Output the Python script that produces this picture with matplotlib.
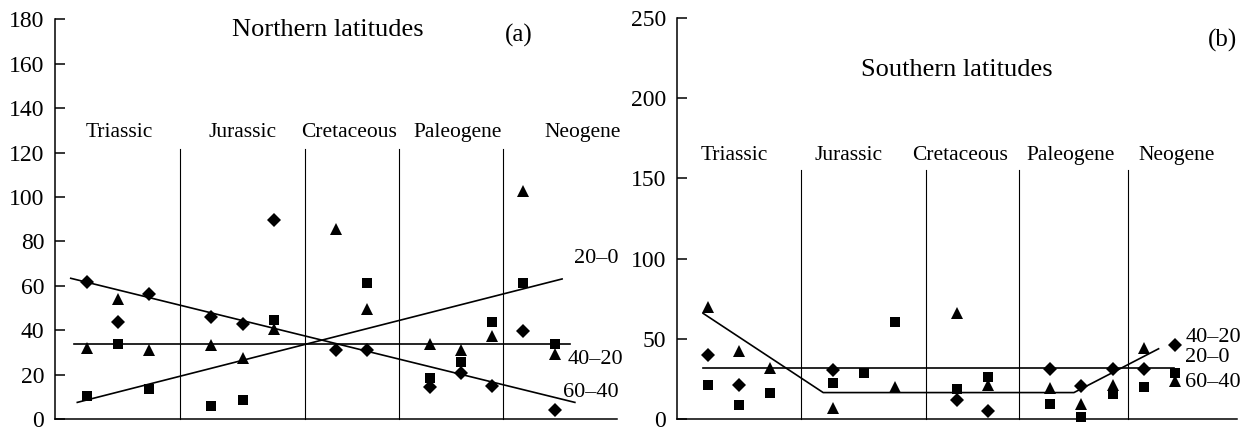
# ================================================================
# 0. Section: IMPORTS
# ================================================================
import numpy as np
from matplotlib import pyplot as plt


# ================================================================
# 1. Section: INPUTS
# ================================================================
STAGES = [1, 2, 3, 5, 6, 7, 9, 10, 12, 13, 14, 15, 16]
PERIODS = ["Triassic", "Jurassic", "Cretaceous", "Paleogene", "Neogene"]

# (a) Northern latitudes
N_DIAMOND = [61.6, 43.6, 56.4, 45.9, 42.8, 89.5, 31.3, 31.3, 14.5, 20.6, 14.9, 39.5, 4.0]
N_TRIANGLE = [31.8, 54.1, 31.0, 33.3, 27.6, 40.6, 85.8, 49.7, 33.6, 31.0, 37.6, 102.9, 29.1]
N_SQUARE = [10.2, 33.6, 13.7, 6.0, 8.5, 44.7, np.nan, 61.5, 18.7, 25.8, 43.6, 61.5, 33.6]

N_TREND_6040_X = [0.49, 16.65]
N_TREND_6040_Y = [63.4, 7.5]
N_TREND_200_X = [0.70, 16.24]
N_TREND_200_Y = [7.5, 63.1]
N_TREND_4020_X = [0.59, 16.48]
N_TREND_4020_Y = [33.6, 33.6]

# (b) Southern latitudes
S_DIAMOND = [40.1, 21.0, np.nan, 30.5, np.nan, np.nan, 11.7, 4.8, 30.9, 20.6, 30.9, 30.9, 46.3]
S_TRIANGLE = [70.0, 42.2, 31.9, 6.8, np.nan, 20.0, 65.9, 21.2, 19.1, 9.3, 21.2, 44.3, 23.7]
S_SQUARE = [21.0, 8.6, 16.5, 22.7, 28.4, 60.7, 18.8, 26.2, 9.3, 1.0, 15.9, 20.0, 28.4]

S_TREND_FLAT_X = [0.84, 15.97]
S_TREND_FLAT_Y = [31.9, 31.9]
S_TREND_BROKEN_X = [0.84, 4.70, 12.76, 15.48]
S_TREND_BROKEN_Y = [65.9, 16.5, 16.5, 43.8]

FONT = "Liberation Serif"


# ================================================================
# 2. Section: FUNCTIONS
# ================================================================
def setup_axis(ax, ymax, ystep, dividers, divider_top, label_xs, label_y):
    ax.set_xlim(0, 18)
    ax.set_ylim(0, ymax)
    ax.set_yticks(np.arange(0, ymax + 1, ystep))
    ax.set_xticks([])
    for side in ("top", "right"):
        ax.spines[side].set_visible(False)
    for side in ("left", "bottom"):
        ax.spines[side].set_linewidth(1.1)
    ax.tick_params(axis="y", direction="in", length=7, width=1.1, pad=8,
                   labelsize=17)
    for lab in ax.get_yticklabels():
        lab.set_family(FONT)

    for x in dividers:
        ax.plot([x, x], [0, divider_top], color="black", lw=0.8, clip_on=False)
    for name, x in zip(PERIODS, label_xs):
        ax.text(x, label_y, name, ha="center", va="center", fontsize=15.5,
                family=FONT)


def draw_points(ax, diamond, triangle, square):
    ax.plot(STAGES, diamond, "D", color="black", ms=6.8, mew=0, clip_on=False)
    ax.plot(STAGES, triangle, "^", color="black", ms=8.5, mew=0, clip_on=False)
    ax.plot(STAGES, square, "s", color="black", ms=6.8, mew=0, clip_on=False)


# ================================================================
# 3. Section: MAIN
# ================================================================
if __name__ == "__main__":
    fig = plt.figure(figsize=(12.52, 4.32), dpi=100)

    # (a) Northern latitudes
    ax_a = fig.add_axes([0.0443, 0.0300, 0.4485, 0.9250])
    setup_axis(ax_a, 180, 20, [4, 8, 11, 14.35], 121.6,
               [2.04, 6.0, 9.42, 12.9, 16.9], 129.2)
    draw_points(ax_a, N_DIAMOND, N_TRIANGLE, N_SQUARE)
    ax_a.plot(N_TREND_6040_X, N_TREND_6040_Y, color="black", lw=1.2)
    ax_a.plot(N_TREND_200_X, N_TREND_200_Y, color="black", lw=1.2)
    ax_a.plot(N_TREND_4020_X, N_TREND_4020_Y, color="black", lw=1.2)
    ax_a.text(17.34, 72.3, "20\u20130", ha="center", va="center", fontsize=16, family=FONT)
    ax_a.text(17.32, 26.8, "40\u201320", ha="center", va="center", fontsize=16, family=FONT)
    ax_a.text(17.17, 11.9, "60\u201340", ha="center", va="center", fontsize=16, family=FONT)
    ax_a.text(8.72, 175.3, "Northern latitudes", ha="center", va="center",
              fontsize=19, family=FONT)
    ax_a.text(14.85, 173.0, "(a)", ha="center", va="center", fontsize=18, family=FONT)

    # (b) Southern latitudes
    ax_b = fig.add_axes([0.5407, 0.0300, 0.4473, 0.9283])
    setup_axis(ax_b, 250, 50, [4, 8, 11, 14.5], 155.3,
               [1.85, 5.53, 9.09, 12.64, 16.06], 164.4)
    draw_points(ax_b, S_DIAMOND, S_TRIANGLE, S_SQUARE)
    ax_b.plot(S_TREND_FLAT_X, S_TREND_FLAT_Y, color="black", lw=1.2)
    ax_b.plot(S_TREND_BROKEN_X, S_TREND_BROKEN_Y, color="black", lw=1.2)
    ax_b.text(16.34, 50.6, "40\u201320", ha="left", va="center", fontsize=16, family=FONT)
    ax_b.text(16.34, 38.2, "20\u20130", ha="left", va="center", fontsize=16, family=FONT)
    ax_b.text(16.34, 22.7, "60\u201340", ha="left", va="center", fontsize=16, family=FONT)
    ax_b.text(8.98, 217.6, "Southern latitudes", ha="center", va="center",
              fontsize=19, family=FONT)
    ax_b.text(17.54, 236.2, "(b)", ha="center", va="center", fontsize=18, family=FONT)

    fig.savefig("out.png", dpi=100)
